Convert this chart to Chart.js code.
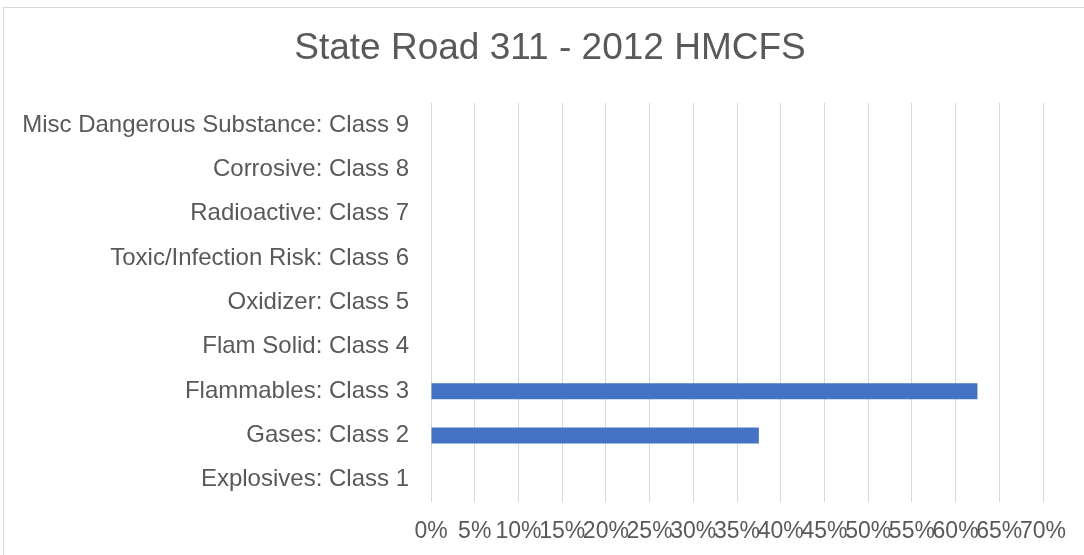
<!DOCTYPE html>
<html>
<head>
<meta charset="utf-8">
<script src="https://cdn.jsdelivr.net/npm/chart.js@4"></script>
<style>
html,body{margin:0;padding:0;background:#fff;}
#wrap{width:1084px;height:555px;position:relative;}
</style>
</head>
<body>
<div id="wrap"><canvas id="c" width="1084" height="555"></canvas></div>
<script>
const categories = [
  "Misc Dangerous Substance: Class 9",
  "Corrosive: Class 8",
  "Radioactive: Class 7",
  "Toxic/Infection Risk: Class 6",
  "Oxidizer: Class 5",
  "Flam Solid: Class 4",
  "Flammables: Class 3",
  "Gases: Class 2",
  "Explosives: Class 1"
];
const shares = [0, 0, 0, 0, 0, 0, 0.625, 0.375, 0];
const xTickStep = 0.05;
const xMax = 0.70;

const borderPlugin = {
  id: 'frame',
  beforeDraw(chart) {
    const ctx = chart.ctx;
    ctx.save();
    ctx.fillStyle = '#ffffff';
    ctx.fillRect(0, 0, chart.width, chart.height);
    ctx.strokeStyle = '#d9d9d9';
    ctx.lineWidth = 1;
    ctx.strokeRect(3.5, 7.5, 1200, 1200);
    ctx.restore();
  },
  afterLayout(chart) {
    if (chart.titleBlock) {
      chart.titleBlock.left = 16;
      chart.titleBlock.right = chart.width;
    }
  }
};

new Chart(document.getElementById('c'), {
  type: 'bar',
  data: {
    labels: categories,
    datasets: [{
      data: shares,
      backgroundColor: '#4472c4',
      borderWidth: 0,
      categoryPercentage: 1,
      barPercentage: 0.36
    }]
  },
  options: {
    indexAxis: 'y',
    responsive: false,
    animation: false,
    layout: { padding: { top: 0, right: 41, bottom: 0, left: 0 } },
    plugins: {
      legend: { display: false },
      tooltip: { enabled: false },
      title: {
        display: true,
        text: 'State Road 311 - 2012 HMCFS',
        color: '#595959',
        font: { family: 'Liberation Sans, Arial, sans-serif', size: 37, weight: 'normal' },
        padding: { top: 27, bottom: 31.6 }
      }
    },
    scales: {
      x: {
        min: 0,
        max: xMax,
        grid: { color: '#d9d9d9', lineWidth: 1, drawTicks: false },
        border: { display: false },
        ticks: {
          stepSize: xTickStep,
          autoSkip: false,
          maxRotation: 0,
          minRotation: 0,
          padding: 16,
          color: '#595959',
          font: { family: 'Liberation Sans, Arial, sans-serif', size: 23 },
          callback: v => Math.round(v * 100) + '%'
        },
        afterFit(s) { s.height = 53; }
      },
      y: {
        grid: { display: false, drawTicks: false },
        border: { display: false },
        ticks: {
          padding: 22,
          color: '#595959',
          font: { family: 'Liberation Sans, Arial, sans-serif', size: 24 }
        },
        afterFit(s) { s.width = 431; }
      }
    }
  },
  plugins: [borderPlugin]
});
</script>
</body>
</html>
